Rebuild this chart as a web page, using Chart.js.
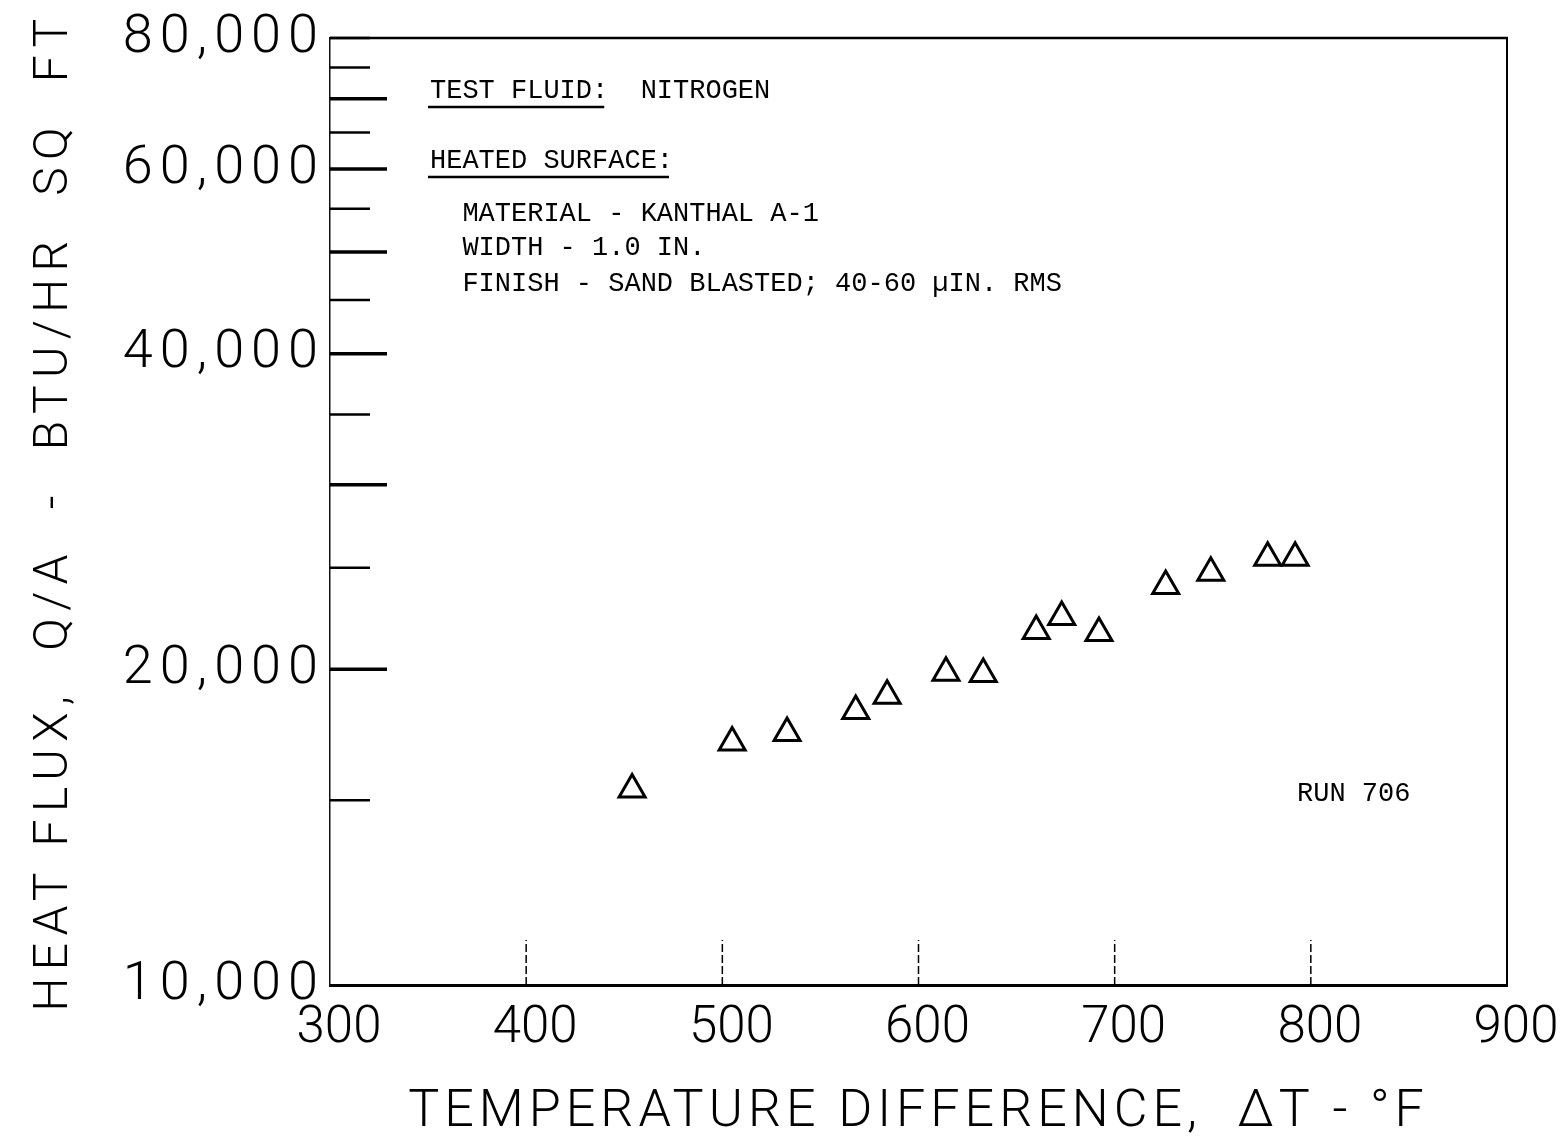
<!DOCTYPE html>
<html>
<head>
<meta charset="utf-8">
<script src="https://cdn.jsdelivr.net/npm/chart.js@4.4.1/dist/chart.umd.min.js"></script>
<style>
html,body{margin:0;padding:0;background:#fff;}
canvas{display:block;}
</style>
</head>
<body>
<canvas id="c" width="1564" height="1144"></canvas>
<script>
// ---- data ----
const deltaT   = [454, 505, 533, 568, 584, 614, 633, 660, 673, 692, 726, 749, 778, 792];
const heatFlux = [15360, 17030, 17390, 18250, 18870, 19850, 19800, 21760, 22440, 21660, 24020, 24720, 25550, 25550];

const xTickValues = [300, 400, 500, 600, 700, 800, 900];
const yTickValues = [10000, 15000, 20000, 25000, 30000, 35000, 40000, 45000, 50000, 55000, 60000, 65000, 70000, 75000, 80000];
const yLabelValues = [10000, 20000, 40000, 60000, 80000];
const yLabelTexts  = ['10,000', '20,000', '40,000', '60,000', '80,000'];
const yLongTickValues = [20000, 30000, 40000, 50000, 60000, 70000];

const xTitle = 'TEMPERATURE DIFFERENCE,  \u0394T - \u00B0F';
const yTitle = 'HEAT FLUX,  Q/A  -  BTU/HR  SQ  FT';

const noteLines = [
  'TEST FLUID:  NITROGEN',
  'HEATED SURFACE:',
  '  MATERIAL - KANTHAL A-1',
  '  WIDTH - 1.0 IN.',
  '  FINISH - SAND BLASTED; 40-60 \u00B5IN. RMS'
];
const underlinedParts = ['TEST FLUID:', 'HEATED SURFACE:'];
const runLabel = 'RUN 706';

// ---- styling helpers ----
const spacing = { x: { labels: '0px', title: '5px' }, y: { labels: '7px', title: '7.3px' } };

const spacingPlugin = {
  id: 'spacing',
  beforeDraw(chart) {
    for (const id in chart.scales) {
      const s = chart.scales[id];
      const sp = spacing[id];
      if (!sp || s._spWrapped) continue;
      const dl = s.drawLabels, dt = s.drawTitle;
      s.drawLabels = function (a) { const c = this.ctx; c.save(); c.letterSpacing = sp.labels; dl.call(this, a); c.restore(); };
      s.drawTitle = function () { const c = this.ctx; c.save(); c.letterSpacing = sp.title; dt.call(this); c.restore(); };
      s._spWrapped = true;
    }
  }
};

function seg(ctx, x1, y1, x2, y2) { ctx.beginPath(); ctx.moveTo(x1, y1); ctx.lineTo(x2, y2); ctx.stroke(); }

const framePlugin = {
  id: 'frame',
  beforeDatasetsDraw(chart) {
    const { ctx, chartArea: { left, right, top, bottom }, scales: { x, y } } = chart;
    ctx.save();
    ctx.strokeStyle = '#000';
    ctx.lineCap = 'butt';
    ctx.lineWidth = 2.5;
    seg(ctx, left, top, right + 1, top);
    ctx.lineWidth = 2;
    seg(ctx, right, top, right, bottom);
    // inward y ticks
    y.ticks.forEach(t => {
      if (t.value === y.min) return;
      const py = y.getPixelForValue(t.value);
      const long = yLongTickValues.includes(t.value);
      ctx.lineWidth = long ? 3.5 : 2.5;
      seg(ctx, left, py, left + (long ? 57 : 40), py);
    });
    // inward x ticks
    ctx.setLineDash([8, 3]);
    ctx.lineWidth = 1.5;
    x.ticks.forEach(t => {
      if (t.value === x.min || t.value === x.max) return;
      const px = x.getPixelForValue(t.value);
      seg(ctx, px, bottom, px, bottom - 45);
    });
    ctx.restore();
  }
};

const notesPlugin = {
  id: 'notes',
  afterDraw(chart) {
    const { ctx, chartArea: { left, top } } = chart;
    ctx.save();
    ctx.letterSpacing = '0px';
    ctx.fillStyle = '#000';
    ctx.strokeStyle = '#000';
    ctx.font = '27px "Liberation Mono", "DejaVu Sans Mono", monospace';
    ctx.textBaseline = 'alphabetic';
    ctx.textAlign = 'left';
    const x0 = left + 100;
    const baselines = [60, 130, 183, 217, 253];
    noteLines.forEach((line, i) => {
      const by = top + baselines[i];
      ctx.fillText(line, x0, by);
      const u = underlinedParts.find(p => line.startsWith(p));
      if (u) {
        const w = ctx.measureText(u).width;
        ctx.lineWidth = 2.5;
        seg(ctx, x0 - 2, by + 9, x0 + w - 4, by + 9);
      }
    });
    ctx.fillText(runLabel, left + 967, top + 763);
    ctx.restore();
  }
};

const fam = 'Roboto, "DejaVu Sans", sans-serif';

new Chart(document.getElementById('c'), {
  type: 'scatter',
  data: {
    datasets: [{
      data: deltaT.map((v, i) => ({ x: v, y: heatFlux[i] })),
      pointStyle: 'triangle',
      pointRadius: 15,
      pointBorderWidth: 3,
      pointBorderColor: '#000',
      pointBackgroundColor: '#fff',
      showLine: false
    }]
  },
  options: {
    responsive: false,
    animation: false,
    events: [],
    layout: { padding: { top: 38, right: 57, bottom: 0, left: 0 } },
    plugins: { legend: { display: false }, tooltip: { enabled: false } },
    scales: {
      x: {
        type: 'linear',
        min: 300, max: 900,
        afterBuildTicks(s) { s.ticks = xTickValues.map(v => ({ value: v })); },
        afterFit(s) { s.height = 159; },
        ticks: {
          color: '#000',
          font: { family: fam, size: 51, weight: '300' },
          padding: 14,
          labelOffset: 9,
          maxRotation: 0,
          autoSkip: false,
          callback: v => String(v)
        },
        grid: { display: false, drawTicks: false },
        border: { display: true, color: '#000', width: 3 },
        title: {
          display: true,
          text: xTitle,
          color: '#000',
          font: { family: fam, size: 52, weight: '300' },
          padding: { top: 0, bottom: 0 }
        }
      },
      y: {
        type: 'logarithmic',
        min: 10000, max: 80000,
        afterBuildTicks(s) { s.ticks = yTickValues.map(v => ({ value: v })); },
        afterFit(s) { s.width = 330; },
        ticks: {
          color: '#000',
          font: { family: fam, size: 54, weight: '300' },
          padding: 5,
          autoSkip: false,
          callback: v => { const i = yLabelValues.indexOf(v); return i >= 0 ? yLabelTexts[i] : ''; }
        },
        grid: { display: false, drawTicks: false },
        border: { display: true, color: '#111', width: 1.5, dash: [4, 2] },
        title: {
          display: true,
          text: yTitle,
          color: '#000',
          font: { family: fam, size: 48, weight: '300' },
          padding: { top: 26, bottom: 0 }
        }
      }
    }
  },
  plugins: [spacingPlugin, framePlugin, notesPlugin]
});
</script>
</body>
</html>
